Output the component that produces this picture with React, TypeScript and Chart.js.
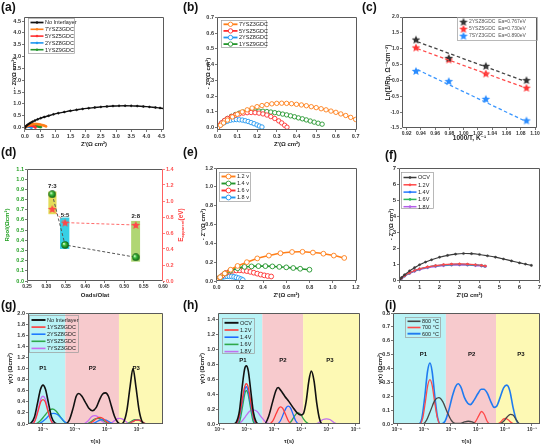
import React, { useEffect, useRef } from 'react';
import { Chart, registerables } from 'chart.js';
Chart.register(...registerables);

const FONT = "'Liberation Sans', Arial, 'DejaVu Sans', sans-serif";

type P = [number, number];

// ---------- (a)/(b) Nyquist, interlayers ----------
const nyqNoInterlayer: P[] = [[0,0],[0.03,0.05],[0.07,0.1],[0.12,0.15],[0.18,0.2],[0.25,0.25],[0.33,0.3],[0.42,0.35],[0.52,0.4],[0.64,0.45],[0.78,0.5],[0.94,0.56],[1.1,0.61],[1.3,0.66],[1.5,0.71],[1.7,0.75],[1.9,0.79],[2.1,0.82],[2.3,0.85],[2.5,0.875],[2.7,0.895],[2.9,0.91],[3.1,0.92],[3.3,0.925],[3.5,0.92],[3.7,0.91],[3.9,0.895],[4.1,0.875],[4.3,0.85],[4.45,0.83],[4.6,0.8]];
const nyq7YSZ3GDC: P[] = [[0,0],[0.015,0.015],[0.03,0.03],[0.05,0.048],[0.075,0.068],[0.1,0.085],[0.125,0.1],[0.15,0.113],[0.175,0.124],[0.2,0.133],[0.225,0.14],[0.25,0.146],[0.275,0.151],[0.3,0.154],[0.325,0.155],[0.35,0.154],[0.375,0.152],[0.4,0.148],[0.425,0.144],[0.45,0.139],[0.475,0.133],[0.5,0.127],[0.525,0.12],[0.55,0.113],[0.575,0.105],[0.6,0.097],[0.625,0.087],[0.65,0.077],[0.675,0.065],[0.7,0.052]];
const nyq5YSZ5GDC: P[] = [[0,0],[0.01,0.015],[0.02,0.03],[0.035,0.045],[0.05,0.058],[0.07,0.07],[0.09,0.08],[0.11,0.087],[0.13,0.092],[0.15,0.095],[0.17,0.096],[0.19,0.095],[0.21,0.092],[0.23,0.087],[0.25,0.08],[0.27,0.07],[0.29,0.058],[0.31,0.043],[0.325,0.03],[0.34,0.015],[0.352,0.003]];
const nyq2YSZ8GDC: P[] = [[0,0],[0.01,0.012],[0.02,0.022],[0.035,0.033],[0.05,0.041],[0.065,0.047],[0.08,0.05],[0.095,0.051],[0.11,0.05],[0.125,0.048],[0.14,0.044],[0.155,0.039],[0.17,0.032],[0.185,0.025],[0.2,0.017],[0.212,0.01],[0.225,0.004]];
const nyq1YSZ9GDC: P[] = [[0,0],[0.01,0.015],[0.02,0.028],[0.035,0.045],[0.05,0.058],[0.07,0.072],[0.09,0.083],[0.11,0.092],[0.13,0.098],[0.15,0.102],[0.17,0.104],[0.19,0.105],[0.21,0.105],[0.23,0.104],[0.25,0.102],[0.27,0.099],[0.29,0.095],[0.31,0.091],[0.33,0.086],[0.35,0.081],[0.37,0.075],[0.39,0.069],[0.41,0.062],[0.43,0.056],[0.45,0.049],[0.47,0.042],[0.49,0.035],[0.51,0.028],[0.53,0.022]];

// ---------- (c) Arrhenius ----------
const cInvT = [0.933, 0.979, 1.031, 1.088];
const c2YSZ8 = [1.29, 0.71, 0.46, 0.01];
const c5YSZ5 = [1.04, 0.66, 0.22, -0.23];
const c7SYZ3 = [0.30, -0.02, -0.58, -1.26];
const cFitX = [0.935, 1.085];
const cFit2YSZ8 = [1.22, -0.02];
const cFit5YSZ5 = [1.0, -0.22];
const cFit7SYZ3 = [0.34, -1.27];
const cLabels = ['2YSZ8GDC  Ea=0.767eV', '5YSZ5GDC  Ea=0.730eV', '7SYZ3GDC  Ea=0.890eV'];

// ---------- (d) ----------
const dOadsOlat = [0.315, 0.348, 0.53];
const dRpol = [0.852, 0.354, 0.233];
const dEapp = [0.90, 0.73, 0.70];
const dRatioLabels = ['7:3', '5:5', '2:8'];
const dLabelY = [0.93, 0.645, 0.635];
const dBoxX: P[] = [[0.305, 0.326], [0.335, 0.359], [0.518, 0.541]];
const dBoxY: P[] = [[0.656, 0.879], [0.315, 0.623], [0.19, 0.59]];

// ---------- (e) Nyquist vs voltage ----------
const e12: P[] = [[0,0],[0.03,0.04],[0.07,0.08],[0.12,0.12],[0.18,0.16],[0.26,0.2],[0.35,0.24],[0.45,0.27],[0.55,0.295],[0.65,0.308],[0.74,0.31],[0.83,0.302],[0.92,0.29],[1.01,0.27],[1.1,0.245]];
const e14: P[] = [[0,0],[0.03,0.04],[0.07,0.08],[0.12,0.11],[0.18,0.135],[0.24,0.15],[0.3,0.155],[0.36,0.158],[0.42,0.158],[0.48,0.155],[0.54,0.15],[0.6,0.145],[0.66,0.138],[0.72,0.13],[0.8,0.12]];
const e16: P[] = [[0,0],[0.02,0.03],[0.05,0.06],[0.08,0.085],[0.11,0.1],[0.14,0.108],[0.17,0.112],[0.2,0.113],[0.23,0.11],[0.26,0.105],[0.29,0.097],[0.32,0.088],[0.35,0.078],[0.38,0.068],[0.41,0.06],[0.44,0.053],[0.47,0.048]];
const e18: P[] = [[0,0],[0.015,0.02],[0.03,0.033],[0.05,0.042],[0.07,0.048],[0.09,0.051],[0.11,0.05],[0.13,0.048],[0.15,0.044],[0.17,0.038],[0.19,0.03],[0.21,0.02],[0.225,0.01]];

// ---------- (f) ----------
const fOCV: P[] = [[0,0],[0.1,0.18],[0.25,0.36],[0.5,0.6],[0.75,0.8],[1.0,0.98],[1.3,1.15],[1.6,1.29],[2.0,1.45],[2.4,1.56],[2.8,1.64],[3.2,1.68],[3.6,1.67],[4.0,1.62],[4.4,1.54],[4.8,1.45],[5.2,1.34],[5.6,1.22],[6.0,1.1],[6.3,1.02],[6.6,0.94]];
const f12: P[] = [[0,0],[0.1,0.15],[0.25,0.3],[0.5,0.48],[0.75,0.62],[1.0,0.73],[1.4,0.85],[1.8,0.93],[2.2,0.99],[2.6,1.02],[3.0,1.03],[3.4,1.02],[3.8,0.98],[4.1,0.94],[4.3,0.9]];
const f14: P[] = [[0,0],[0.1,0.14],[0.25,0.29],[0.5,0.47],[0.75,0.61],[1.0,0.72],[1.4,0.84],[1.8,0.92],[2.2,0.97],[2.6,1.0],[3.0,1.01],[3.4,1.0],[3.8,0.97],[4.1,0.93],[4.3,0.88]];
const f16: P[] = [[0,0],[0.1,0.14],[0.25,0.29],[0.5,0.46],[0.75,0.6],[1.0,0.71],[1.4,0.83],[1.8,0.91],[2.2,0.96],[2.6,0.99],[3.0,1.0],[3.4,0.99],[3.8,0.96],[4.1,0.93],[4.25,0.9]];
const f18: P[] = [[0,0],[0.1,0.13],[0.25,0.27],[0.5,0.44],[0.75,0.57],[1.0,0.67],[1.4,0.79],[1.8,0.87],[2.2,0.92],[2.6,0.95],[3.0,0.96],[3.4,0.95],[3.8,0.93],[4.1,0.9],[4.25,0.88]];

// ---------- (g) DRT interlayers: [log10(tau), gamma] ----------
const gNoInterlayer: P[] = [[-5.47,0],[-5.37,0.02],[-5.27,0.12],[-5.17,0.38],[-5.08,0.62],[-5.0,0.7],[-4.92,0.62],[-4.83,0.38],[-4.73,0.12],[-4.63,0.02],[-4.5,0],[-4.3,0],[-4.17,0.08],[-4.05,0.3],[-3.96,0.5],[-3.88,0.55],[-3.78,0.5],[-3.68,0.4],[-3.57,0.29],[-3.45,0.24],[-3.33,0.3],[-3.22,0.45],[-3.13,0.54],[-3.04,0.56],[-2.95,0.5],[-2.86,0.33],[-2.76,0.14],[-2.66,0.03],[-2.56,0],[-2.46,0.05],[-2.37,0.25],[-2.27,0.68],[-2.18,1.0],[-2.09,0.68],[-1.99,0.25],[-1.9,0.05],[-1.8,0],[-1.24,0]];
const g1YSZ9: P[] = [[-5.47,0],[-5.35,0],[-5.25,0.06],[-5.15,0.24],[-5.07,0.4],[-5.0,0.44],[-4.93,0.4],[-4.85,0.24],[-4.75,0.06],[-4.65,0],[-3.6,0],[-3.45,0.04],[-3.32,0.1],[-3.22,0.12],[-3.12,0.1],[-3.0,0.04],[-2.85,0],[-2.35,0],[-2.2,0.04],[-2.08,0.07],[-2.0,0.07],[-1.9,0.04],[-1.75,0],[-1.24,0]];
const g2YSZ8: P[] = [[-5.47,0],[-5.2,0],[-5.05,0.03],[-4.9,0.1],[-4.78,0.17],[-4.67,0.19],[-4.55,0.17],[-4.42,0.1],[-4.3,0.03],[-4.15,0],[-3.5,0],[-3.35,0.03],[-3.22,0.07],[-3.12,0.08],[-3.02,0.07],[-2.9,0.03],[-2.75,0],[-2.35,0],[-2.2,0.04],[-2.08,0.07],[-2.0,0.07],[-1.9,0.04],[-1.75,0],[-1.24,0]];
const g5YSZ5: P[] = [[-5.47,0],[-5.25,0],[-5.1,0.05],[-4.95,0.15],[-4.82,0.24],[-4.71,0.27],[-4.6,0.24],[-4.47,0.14],[-4.35,0.05],[-4.2,0],[-3.65,0],[-3.5,0.04],[-3.38,0.09],[-3.28,0.1],[-3.18,0.09],[-3.05,0.04],[-2.9,0],[-2.4,0],[-2.25,0.04],[-2.12,0.08],[-2.03,0.08],[-1.93,0.05],[-1.78,0],[-1.24,0]];
const g7YSZ3: P[] = [[-5.47,0],[-5.35,0],[-5.25,0.07],[-5.15,0.27],[-5.07,0.45],[-5.0,0.5],[-4.93,0.45],[-4.85,0.27],[-4.75,0.07],[-4.65,0],[-3.75,0],[-3.6,0.05],[-3.48,0.13],[-3.38,0.15],[-3.28,0.13],[-3.15,0.05],[-3.0,0],[-2.85,0.02],[-2.72,0.08],[-2.6,0.1],[-2.48,0.08],[-2.35,0.02],[-2.25,0],[-1.24,0]];
const gRegionEdges = [-4.30, -2.62];

// ---------- (h) DRT vs voltage ----------
const hOCV: P[] = [[-6.06,0],[-5.5,0],[-5.38,0.03],[-5.27,0.18],[-5.17,0.5],[-5.08,0.74],[-5.02,0.78],[-4.95,0.72],[-4.86,0.46],[-4.76,0.16],[-4.66,0.03],[-4.55,0],[-4.35,0],[-4.2,0.1],[-4.05,0.3],[-3.93,0.45],[-3.85,0.49],[-3.75,0.45],[-3.6,0.37],[-3.45,0.3],[-3.3,0.22],[-3.15,0.15],[-3.02,0.12],[-2.92,0.14],[-2.82,0.3],[-2.72,0.58],[-2.63,0.71],[-2.53,0.58],[-2.43,0.28],[-2.33,0.07],[-2.22,0],[-0.84,0]];
const h12: P[] = [[-6.06,0],[-5.45,0],[-5.32,0.05],[-5.2,0.25],[-5.1,0.47],[-5.02,0.54],[-4.94,0.48],[-4.84,0.26],[-4.73,0.06],[-4.6,0],[-4.2,0],[-4.05,0.04],[-3.92,0.14],[-3.83,0.21],[-3.76,0.23],[-3.68,0.21],[-3.58,0.13],[-3.47,0.04],[-3.35,0],[-0.84,0]];
const h14: P[] = [[-6.06,0],[-5.42,0],[-5.3,0.05],[-5.19,0.24],[-5.09,0.44],[-5.02,0.5],[-4.95,0.44],[-4.85,0.24],[-4.74,0.05],[-4.62,0],[-3.9,0],[-3.77,0.04],[-3.65,0.14],[-3.55,0.22],[-3.48,0.24],[-3.4,0.22],[-3.3,0.13],[-3.2,0.04],[-3.08,0],[-0.84,0]];
const h16: P[] = [[-6.06,0],[-5.35,0],[-5.25,0.05],[-5.15,0.25],[-5.07,0.41],[-5.02,0.45],[-4.96,0.41],[-4.88,0.25],[-4.78,0.05],[-4.68,0],[-3.5,0],[-3.38,0.03],[-3.26,0.1],[-3.16,0.145],[-3.1,0.15],[-3.02,0.13],[-2.92,0.07],[-2.8,0.02],[-2.68,0],[-0.84,0]];
const h18: P[] = [[-6.06,0],[-5.4,0],[-5.2,0.03],[-5.05,0.1],[-4.9,0.17],[-4.77,0.19],[-4.63,0.17],[-4.48,0.1],[-4.32,0.03],[-4.12,0],[-2.5,0],[-2.35,0.02],[-2.2,0.06],[-2.07,0.07],[-1.95,0.06],[-1.8,0.02],[-1.65,0],[-0.84,0]];
const hRegionEdges = [-4.43, -2.93];

// ---------- (i) DRT vs temperature ----------
const i800: P[] = [[-6.15,0],[-5.05,0],[-4.9,0.03],[-4.75,0.1],[-4.6,0.17],[-4.45,0.19],[-4.3,0.16],[-4.15,0.09],[-4.0,0.03],[-3.85,0.005],[-3.65,0.005],[-3.5,0.015],[-3.36,0.02],[-3.22,0.015],[-3.05,0],[-2.2,0],[-2.05,0.02],[-1.92,0.05],[-1.8,0.07],[-1.7,0.065],[-1.58,0.03],[-1.45,0],[-0.7,0]];
const i700: P[] = [[-6.15,0],[-5.15,0],[-5.05,0.04],[-4.95,0.16],[-4.86,0.28],[-4.78,0.32],[-4.7,0.28],[-4.6,0.15],[-4.5,0.04],[-4.4,0],[-3.2,0],[-3.08,0.02],[-2.97,0.06],[-2.87,0.09],[-2.77,0.07],[-2.66,0.02],[-2.55,0],[-2.3,0],[-2.18,0.01],[-2.06,0.035],[-1.98,0.04],[-1.88,0.03],[-1.76,0.01],[-1.65,0],[-0.7,0]];
const i600: P[] = [[-6.15,0],[-5.2,0],[-5.08,0.04],[-4.97,0.2],[-4.87,0.38],[-4.78,0.44],[-4.7,0.38],[-4.6,0.2],[-4.5,0.05],[-4.38,0],[-4.22,0.02],[-4.08,0.1],[-3.95,0.2],[-3.83,0.27],[-3.73,0.29],[-3.62,0.26],[-3.5,0.19],[-3.38,0.15],[-3.28,0.14],[-3.15,0.17],[-3.0,0.22],[-2.88,0.25],[-2.78,0.25],[-2.65,0.22],[-2.52,0.16],[-2.4,0.12],[-2.3,0.13],[-2.18,0.19],[-2.05,0.26],[-1.93,0.28],[-1.82,0.24],[-1.7,0.12],[-1.58,0.03],[-1.45,0],[-0.7,0]];
const iRegionEdges = [-4.19, -2.33];

const peakLabels = ['P1', 'P2', 'P3'];
const gPeakPos: P[] = [[-5.0, 1.0], [-3.45, 1.0], [-2.08, 1.0]];
const hPeakPos: P[] = [[-5.14, 0.85], [-3.67, 0.85], [-1.95, 0.85]];
const iPeakPos: P[] = [[-5.02, 0.5], [-3.23, 0.5], [-1.41, 0.5]];

// tick values
const aXTicks = [0, 0.5, 1, 1.5, 2, 2.5, 3, 3.5, 4, 4.5];
const aYTicks = [0, 0.5, 1, 1.5, 2, 2.5, 3, 3.5, 4, 4.5];
const bXTicks = [0, 0.1, 0.2, 0.3, 0.4, 0.5, 0.6, 0.7];
const bYTicks = [0, 0.1, 0.2, 0.3, 0.4, 0.5, 0.6, 0.7];
const cXTicks = [0.92, 0.94, 0.96, 0.98, 1.0, 1.02, 1.04, 1.06, 1.08, 1.1];
const cYTicks = [-1.5, -1.0, -0.5, 0, 0.5, 1.0, 1.5, 2.0];
const dXTicks = [0.25, 0.3, 0.35, 0.4, 0.45, 0.5, 0.55, 0.6];
const dYTicks = [0, 0.1, 0.2, 0.3, 0.4, 0.5, 0.6, 0.7, 0.8, 0.9, 1.0, 1.1];
const dY2Ticks = [0, 0.2, 0.4, 0.6, 0.8, 1.0, 1.2, 1.4];
const eTicks = [0, 0.2, 0.4, 0.6, 0.8, 1.0, 1.2];
const fTicks = [0, 1, 2, 3, 4, 5, 6, 7];
const gYTicks = [0, 0.2, 0.4, 0.6, 0.8, 1.0, 1.2, 1.4, 1.6, 1.8, 2.0];
const hYTicks = [0, 0.2, 0.4, 0.6, 0.8, 1.0, 1.2, 1.4];
const iYTicks = [0, 0.1, 0.2, 0.3, 0.4, 0.5, 0.6, 0.7, 0.8];
const gXDecades = [-5, -4, -3, -2];
const hXDecades = [-6, -5, -4, -3, -2, -1];
const iXDecades = [-6, -5, -4, -3, -2, -1];

// ---------- helpers ----------
const xy = (a: P[]) => a.map(([x, y]) => ({ x, y }));
const lxy = (a: P[]) => a.map(([e, y]) => ({ x: Math.pow(10, e), y }));
const zip = (xs: number[], ys: number[]) => xs.map((x, i) => ({ x, y: ys[i] }));
const SUP: Record<string, string> = { '-': '⁻', '0': '⁰', '1': '¹', '2': '²', '3': '³', '4': '⁴', '5': '⁵', '6': '⁶', '7': '⁷', '8': '⁸', '9': '⁹' };
const sup = (n: number) => String(n).split('').map((c) => SUP[c] || c).join('');
const logFmt = (v: number) => '10' + sup(Math.round(Math.log10(v)));

type Rect = { x: number; y: number; w: number; h: number };
type Frame = { l: number; t: number; r: number; b: number };

function axis(s: any) {
  const horizontal = s.position === 'bottom';
  const tsize = s.titleSize ?? 6;
  const lh = tsize * 1.2;
  let pad = 0;
  if (s.title) {
    if (s.position === 'left') pad = s.titleCenter - lh / 2;
    else pad = s.extent - s.titleCenter - lh / 2;
  }
  const col = s.tickColor ?? '#555';
  return {
    type: s.type ?? 'linear',
    position: s.position,
    min: s.min,
    max: s.max,
    afterBuildTicks: (sc: any) => { sc.ticks = s.ticks.map((v: number) => ({ value: v })); },
    afterFit: (sc: any) => {
      if (horizontal) sc.height = s.size; else sc.width = s.size;
      sc.paddingLeft = 0; sc.paddingRight = 0; sc.paddingTop = 0; sc.paddingBottom = 0;
    },
    ticks: {
      autoSkip: false, maxRotation: 0, minRotation: 0, padding: s.tickPad ?? 1,
      color: s.labelColor ?? '#333',
      font: { size: s.labelSize ?? 5.5, weight: 'bold', family: FONT },
      callback: (v: any) => s.fmt(Number(v)),
    },
    grid: { drawOnChartArea: false, drawTicks: true, tickLength: 2, color: col, tickColor: col, lineWidth: 0.8 },
    border: { display: false },
    title: s.title
      ? { display: true, text: s.title, color: s.titleColor ?? '#222', font: { size: tsize, weight: 'bold', family: FONT }, padding: horizontal ? { top: 0, bottom: pad } : { top: pad, bottom: 0 } }
      : { display: false },
  };
}

function framePlugin(sides?: any) {
  const c = '#5a5a5a';
  const s = Object.assign({ left: c, right: c, top: c, bottom: c }, sides || {});
  return {
    id: 'frameBox',
    afterDatasetsDraw(chart: any) {
      const { ctx, chartArea: a } = chart;
      const L = Math.round(a.left) + 0.5, R = Math.round(a.right) - 0.5, T = Math.round(a.top) + 0.5, B = Math.round(a.bottom) - 0.5;
      ctx.save();
      ctx.lineWidth = 1;
      ctx.setLineDash([]);
      const line = (x1: number, y1: number, x2: number, y2: number, col: string) => {
        ctx.strokeStyle = col; ctx.beginPath(); ctx.moveTo(x1, y1); ctx.lineTo(x2, y2); ctx.stroke();
      };
      line(L, T, R, T, s.top);
      line(L, B, R, B, s.bottom);
      line(L, T, L, B, s.left);
      line(R, T, R, B, s.right);
      ctx.restore();
    },
  };
}

function regionsPlugin(edges: number[], colors: string[]) {
  return {
    id: 'regions',
    beforeDatasetsDraw(chart: any) {
      const { ctx, chartArea: a, scales } = chart;
      const xs = [a.left, ...edges.map((e) => scales.x.getPixelForValue(Math.pow(10, e))), a.right];
      ctx.save();
      for (let i = 0; i < xs.length - 1; i++) {
        ctx.fillStyle = colors[i];
        ctx.fillRect(xs[i], a.top, xs[i + 1] - xs[i], a.bottom - a.top);
      }
      ctx.restore();
    },
  };
}

function boxesPlugin(bx: P[], by: P[], colors: string[]) {
  return {
    id: 'boxes',
    beforeDatasetsDraw(chart: any) {
      const { ctx, scales } = chart;
      ctx.save();
      bx.forEach((r, i) => {
        const x1 = scales.x.getPixelForValue(r[0]), x2 = scales.x.getPixelForValue(r[1]);
        const y1 = scales.y.getPixelForValue(by[i][1]), y2 = scales.y.getPixelForValue(by[i][0]);
        ctx.fillStyle = colors[i];
        ctx.fillRect(x1, y1, x2 - x1, y2 - y1);
      });
      ctx.restore();
    },
  };
}

function textsPlugin(items: { x: number; y: number; text: string }[], size: number, color = '#111') {
  return {
    id: 'texts',
    afterDatasetsDraw(chart: any) {
      const { ctx, scales } = chart;
      ctx.save();
      ctx.font = `bold ${size}px ${FONT}`;
      ctx.fillStyle = color;
      ctx.textAlign = 'center';
      ctx.textBaseline = 'middle';
      items.forEach((it) => ctx.fillText(it.text, scales.x.getPixelForValue(it.x), scales.y.getPixelForValue(it.y)));
      ctx.restore();
    },
  };
}

function drawMarker(ctx: any, d: any, x: number, y: number) {
  const ps = d.pointStyle;
  if (ps && typeof ps === 'object') { ctx.drawImage(ps, x - ps.width / 2, y - ps.height / 2); return; }
  const r = d.legendRadius ?? d.pointRadius ?? 0;
  if (r <= 0) return;
  ctx.beginPath();
  ctx.arc(x, y, r, 0, Math.PI * 2);
  ctx.fillStyle = d.pointBackgroundColor ?? d.borderColor;
  ctx.fill();
  ctx.strokeStyle = d.borderColor;
  ctx.lineWidth = d.pointBorderWidth ?? 1;
  ctx.stroke();
}

function legendPlugin(cfg: any) {
  return {
    id: 'customLegend',
    afterDatasetsDraw(chart: any) {
      const { ctx, chartArea: a } = chart;
      const x0 = Math.round(a.left + cfg.dx) + 0.5;
      const y0 = Math.round(a.top + cfg.dy) + 0.5;
      ctx.save();
      ctx.setLineDash([]);
      ctx.strokeStyle = '#9a9a9a';
      ctx.lineWidth = 0.7;
      ctx.strokeRect(x0, y0, cfg.w, cfg.h);
      const sets = chart.data.datasets.filter((d: any) => d.label);
      ctx.textBaseline = 'middle';
      ctx.textAlign = 'left';
      sets.forEach((d: any, i: number) => {
        const cy = y0 + cfg.top + cfg.row * i;
        const sx = x0 + 2;
        if (!cfg.markerOnly) {
          ctx.strokeStyle = d.borderColor;
          ctx.lineWidth = (d.borderWidth ?? 1) + 0.3;
          ctx.beginPath(); ctx.moveTo(sx, cy); ctx.lineTo(sx + cfg.sample, cy); ctx.stroke();
        }
        drawMarker(ctx, d, sx + cfg.sample / 2, cy);
        ctx.font = `${cfg.size}px ${FONT}`;
        ctx.fillStyle = cfg.textColor ?? '#222';
        ctx.fillText(d.label, sx + cfg.sample + 1.5, cy + 0.3);
      });
      ctx.restore();
    },
  };
}

function makeStar(color: string, size: number) {
  const c = document.createElement('canvas');
  c.width = size; c.height = size;
  const ctx = c.getContext('2d')!;
  const R = size / 2 - 0.5, r = R * 0.45, cx = size / 2, cy = size / 2 + 0.4;
  ctx.beginPath();
  for (let k = 0; k < 10; k++) {
    const rad = k % 2 === 0 ? R : r;
    const ang = -Math.PI / 2 + (k * Math.PI) / 5;
    const px = cx + rad * Math.cos(ang), py = cy + rad * Math.sin(ang);
    if (k === 0) ctx.moveTo(px, py); else ctx.lineTo(px, py);
  }
  ctx.closePath();
  ctx.fillStyle = color;
  ctx.fill();
  return c;
}

function makeSphere(size: number) {
  const c = document.createElement('canvas');
  c.width = size; c.height = size;
  const ctx = c.getContext('2d')!;
  const r = size / 2 - 0.3;
  const g = ctx.createRadialGradient(size / 2 - r * 0.35, size / 2 - r * 0.35, r * 0.1, size / 2, size / 2, r);
  g.addColorStop(0, '#d8ffd0');
  g.addColorStop(0.35, '#3cbf3c');
  g.addColorStop(1, '#0b5a12');
  ctx.beginPath();
  ctx.arc(size / 2, size / 2, r, 0, Math.PI * 2);
  ctx.fillStyle = g;
  ctx.fill();
  return c;
}

function geo(cv: Rect, fr: Frame) {
  return {
    yW: fr.l - cv.x,
    xH: cv.y + cv.h - fr.b,
    padTop: fr.t - cv.y,
    padRight: cv.x + cv.w - fr.r,
  };
}

function baseOptions(padTop: number, padRight: number, scales: any) {
  return {
    responsive: false,
    maintainAspectRatio: false,
    animation: false,
    events: [],
    layout: { padding: { left: 0, top: padTop, right: padRight, bottom: 0 } },
    plugins: { legend: { display: false }, tooltip: { enabled: false }, title: { display: false } },
    scales,
  };
}

const f1 = (v: number) => v.toFixed(1);
const f2 = (v: number) => v.toFixed(2);
const f0 = (v: number) => v.toFixed(0);

const ORANGE = '#FF7F1A', RED = '#FF2E2E', BLUE = '#1E96F0', GREEN = '#23952C';

function nyqSet(label: string, data: P[], color: string, radius: number, bw: number, open: boolean) {
  return {
    label, data: xy(data), showLine: true, borderColor: color, backgroundColor: color,
    borderWidth: bw, pointRadius: radius, pointBorderWidth: open ? 0.9 : 0.5,
    pointBackgroundColor: open ? '#ffffff' : color, pointBorderColor: color,
    tension: 0.3,
  };
}

function drtSet(label: string, data: P[], color: string, bw: number) {
  return {
    label, data: lxy(data), showLine: true, borderColor: color, backgroundColor: color,
    borderWidth: bw, pointRadius: 0, cubicInterpolationMode: 'monotone',
  };
}

type Panel = { cv: Rect; build: () => any };

const PANELS: Panel[] = [
  // (a)
  {
    cv: { x: 0, y: 0, w: 182, h: 150 },
    build() {
      const g = geo(this.cv, { l: 24, t: 17, r: 164, b: 130 });
      return {
        type: 'scatter',
        data: { datasets: [
          nyqSet('No Interlayer', nyqNoInterlayer, '#111111', 1, 1.4, false),
          nyqSet('7YSZ3GDC', nyq7YSZ3GDC, ORANGE, 1, 1.3, false),
          nyqSet('5YSZ5GDC', nyq5YSZ5GDC, RED, 1, 1.3, false),
          nyqSet('2YSZ8GDC', nyq2YSZ8GDC, BLUE, 1, 1.3, false),
          nyqSet('1YSZ9GDC', nyq1YSZ9GDC, GREEN, 1, 1.3, false),
        ] },
        options: baseOptions(g.padTop, g.padRight, {
          x: axis({ position: 'bottom', min: -0.03, max: 4.58, ticks: aXTicks, fmt: f1, size: g.xH, title: "Z'(Ω cm²)", titleCenter: 144, extent: 150 }),
          y: axis({ position: 'left', min: -0.1, max: 4.67, ticks: aYTicks, fmt: f1, size: g.yW, title: "- Z''(Ω cm²)", titleCenter: 14 }),
        }),
        plugins: [framePlugin(), legendPlugin({ dx: 4, dy: 0.5, w: 46, h: 35, top: 4, row: 6.8, sample: 13, size: 5.5 })],
      };
    },
  },
  // (b)
  {
    cv: { x: 182, y: 0, w: 183, h: 150 },
    build() {
      const g = geo(this.cv, { l: 217, t: 17, r: 357, b: 130 });
      return {
        type: 'scatter',
        data: { datasets: [
          nyqSet('7YSZ3GDC', nyq7YSZ3GDC, ORANGE, 2.2, 1.5, true),
          nyqSet('5YSZ5GDC', nyq5YSZ5GDC, RED, 2.2, 1.5, true),
          nyqSet('2YSZ8GDC', nyq2YSZ8GDC, BLUE, 2.2, 1.5, true),
          nyqSet('1YSZ9GDC', nyq1YSZ9GDC, GREEN, 2.2, 1.5, true),
        ] },
        options: baseOptions(g.padTop, g.padRight, {
          x: axis({ position: 'bottom', min: -0.003, max: 0.707, ticks: bXTicks, fmt: f1, size: g.xH, title: "Z'(Ω cm²)", titleCenter: 144, extent: 150 }),
          y: axis({ position: 'left', min: -0.015, max: 0.702, ticks: bYTicks, fmt: f1, size: g.yW, title: "- Z''(Ω cm²)", titleCenter: 208 - 182 }),
        }),
        plugins: [framePlugin(), legendPlugin({ dx: 4, dy: 3, w: 45, h: 27, top: 3.8, row: 6.6, sample: 14, size: 5.5 })],
      };
    },
  },
  // (c)
  {
    cv: { x: 365, y: 0, w: 181, h: 150 },
    build() {
      const g = geo(this.cv, { l: 402, t: 17, r: 537, b: 128 });
      const s1 = makeStar('#333333', 10), s2 = makeStar('#FF3535', 10), s3 = makeStar('#2A8CFF', 10);
      const fit = (ys: number[], color: string) => ({ label: '', data: zip(cFitX, ys), showLine: true, borderColor: color, borderWidth: 1.3, borderDash: [3.5, 2.5], pointRadius: 0 });
      const stars = (label: string, ys: number[], img: any, color: string) => ({ label, data: zip(cInvT, ys), showLine: false, pointStyle: img, pointRadius: 4.5, borderColor: color, backgroundColor: color });
      return {
        type: 'scatter',
        data: { datasets: [
          fit(cFit2YSZ8, '#444444'), fit(cFit5YSZ5, '#FF4A4A'), fit(cFit7SYZ3, '#3A96FF'),
          stars(cLabels[0], c2YSZ8, s1, '#333'), stars(cLabels[1], c5YSZ5, s2, '#FF3535'), stars(cLabels[2], c7SYZ3, s3, '#2A8CFF'),
        ] },
        options: baseOptions(g.padTop, g.padRight, {
          x: axis({ position: 'bottom', min: 0.9134, max: 1.1028, ticks: cXTicks, fmt: f2, size: g.xH, labelSize: 5, title: '1000/T, K⁻¹', titleSize: 6.5, titleCenter: 138, extent: 150 }),
          y: axis({ position: 'left', min: -1.5, max: 2.0, ticks: cYTicks, fmt: f1, size: g.yW, labelSize: 5, title: 'Ln(1/Rp, Ω⁻¹cm⁻²)', titleSize: 6.5, titleCenter: 388 - 365 }),
        }),
        plugins: [framePlugin(), legendPlugin({ dx: 55, dy: 0, w: 80, h: 23, top: 4.3, row: 7, sample: 8, size: 5, markerOnly: true, textColor: '#555' })],
      };
    },
  },
  // (d)
  {
    cv: { x: 0, y: 150, w: 186, h: 148 },
    build() {
      const fr = { l: 27, t: 169, r: 163, b: 281 };
      const g = geo(this.cv, fr);
      const sphere = makeSphere(8);
      const star = makeStar('#FF4848', 10);
      const eTitle = {
        id: 'eTitle',
        afterDraw(chart: any) {
          const { ctx, chartArea: a } = chart;
          ctx.save();
          ctx.translate(181, (a.top + a.bottom) / 2);
          ctx.rotate(-Math.PI / 2);
          const big = `bold 6.5px ${FONT}`, small = `bold 4px ${FONT}`;
          ctx.font = big; const w1 = ctx.measureText('E').width; const w3 = ctx.measureText('(eV)').width;
          ctx.font = small; const w2 = ctx.measureText('apparent').width;
          let x = -(w1 + w2 + w3) / 2;
          ctx.fillStyle = '#FF4040'; ctx.textBaseline = 'middle'; ctx.textAlign = 'left';
          ctx.font = big; ctx.fillText('E', x, 0); x += w1;
          ctx.font = small; ctx.fillText('apparent', x, 2); x += w2;
          ctx.font = big; ctx.fillText('(eV)', x, 0);
          ctx.restore();
        },
      };
      return {
        type: 'scatter',
        data: { datasets: [
          { label: '', data: zip(dOadsOlat, dRpol), yAxisID: 'y', showLine: true, borderColor: '#555555', borderWidth: 1, borderDash: [3, 2], pointStyle: sphere, pointRadius: 4 },
          { label: '', data: zip(dOadsOlat, dEapp), yAxisID: 'y2', showLine: true, borderColor: '#FF6A6A', borderWidth: 1, borderDash: [3, 2], pointStyle: star, pointRadius: 4 },
        ] },
        options: baseOptions(g.padTop, 0, {
          x: axis({ position: 'bottom', min: 0.25, max: 0.6, ticks: dXTicks, fmt: f2, size: g.xH, labelSize: 5, title: 'Oads/Olat', titleCenter: 295 - 150, extent: 148 }),
          y: axis({ position: 'left', min: 0, max: 1.1, ticks: dYTicks, fmt: f1, size: g.yW, labelColor: '#22A022', title: 'Rpol(Ωcm²)', titleColor: '#22A022', titleCenter: 7 }),
          y2: axis({ position: 'right', min: 0, max: 1.4, ticks: dY2Ticks, fmt: f1, size: 186 - fr.r, labelColor: '#FF5050', tickColor: '#FF6060' }),
        }),
        plugins: [
          boxesPlugin(dBoxX, dBoxY, ['rgba(222,214,60,0.85)', 'rgba(20,200,225,0.85)', 'rgba(150,200,70,0.75)']),
          textsPlugin(dOadsOlat.map((x, i) => ({ x, y: dLabelY[i], text: dRatioLabels[i] })), 6, '#222'),
          framePlugin({ right: '#FF6060' }),
          eTitle,
        ],
      };
    },
  },
  // (e)
  {
    cv: { x: 182, y: 150, w: 183, h: 148 },
    build() {
      const g = geo(this.cv, { l: 216, t: 168, r: 357, b: 281 });
      return {
        type: 'scatter',
        data: { datasets: [
          nyqSet('1.2 v', e12, ORANGE, 2.4, 1.6, true),
          nyqSet('1.4 v', e14, GREEN, 2.4, 1.6, true),
          nyqSet('1.6 v', e16, RED, 2.4, 1.6, true),
          nyqSet('1.8 v', e18, BLUE, 2.4, 1.6, true),
        ] },
        options: baseOptions(g.padTop, g.padRight, {
          x: axis({ position: 'bottom', min: -0.006, max: 1.21, ticks: eTicks, fmt: f1, size: g.xH, title: "Z'(Ω cm²)", titleCenter: 295 - 150, extent: 148 }),
          y: axis({ position: 'left', min: 0, max: 1.2, ticks: eTicks, fmt: f1, size: g.yW, title: "- Z''(Ω cm²)", titleCenter: 203 - 182 }),
        }),
        plugins: [framePlugin(), legendPlugin({ dx: 3, dy: 4, w: 31, h: 29, top: 4, row: 7, sample: 14, size: 5.5 })],
      };
    },
  },
  // (f)
  {
    cv: { x: 365, y: 150, w: 181, h: 148 },
    build() {
      const g = geo(this.cv, { l: 399, t: 168, r: 540, b: 281 });
      return {
        type: 'scatter',
        data: { datasets: [
          nyqSet('OCV', fOCV, '#3a3a3a', 1.1, 1.2, false),
          nyqSet('1.2V', f12, '#FF4848', 1.1, 1.2, false),
          nyqSet('1.4V', f14, '#2277FF', 1.1, 1.2, false),
          nyqSet('1.6V', f16, '#2DB85A', 1.1, 1.2, false),
          nyqSet('1.8V', f18, '#B45EEA', 1.1, 1.2, false),
        ] },
        options: baseOptions(g.padTop, g.padRight, {
          x: axis({ position: 'bottom', min: -0.03, max: 7.03, ticks: fTicks, fmt: f0, size: g.xH, labelSize: 6, title: "Z'(Ω cm²)", titleCenter: 295 - 150, extent: 148 }),
          y: axis({ position: 'left', min: -0.03, max: 7, ticks: fTicks, fmt: f0, size: g.yW, labelSize: 6, title: "- Z''(Ω cm²)", titleCenter: 391 - 365 }),
        }),
        plugins: [framePlugin(), legendPlugin({ dx: 2, dy: 4, w: 32, h: 36, top: 5, row: 7.3, sample: 13, size: 5.5 })],
      };
    },
  },
  // (g)
  {
    cv: { x: 0, y: 298, w: 182, h: 148 },
    build() {
      const g = geo(this.cv, { l: 28, t: 313, r: 163, b: 424 });
      return {
        type: 'scatter',
        data: { datasets: [
          drtSet('No Interlayer', gNoInterlayer, '#111111', 1.6),
          drtSet('1YSZ9GDC', g1YSZ9, '#FF3A3A', 1.3),
          drtSet('2YSZ8GDC', g2YSZ8, '#1E7BFF', 1.3),
          drtSet('5YSZ5GDC', g5YSZ5, '#2EA84A', 1.3),
          drtSet('7YSZ3GDC', g7YSZ3, '#C86CF0', 1.3),
        ] },
        options: baseOptions(g.padTop, g.padRight, {
          x: axis({ type: 'logarithmic', position: 'bottom', min: Math.pow(10, -5.47), max: Math.pow(10, -1.24), ticks: gXDecades.map((e) => Math.pow(10, e)), fmt: logFmt, size: g.xH, labelSize: 5, title: 'τ(s)', titleCenter: 441 - 298, extent: 148 }),
          y: axis({ position: 'left', min: 0, max: 2.0, ticks: gYTicks, fmt: f1, size: g.yW, title: 'γ(τ) (Ωcm²)', titleCenter: 10 }),
        }),
        plugins: [
          regionsPlugin(gRegionEdges, ['#B9F3F6', '#F7CACD', '#FDF9B4']),
          textsPlugin(gPeakPos.map((p, i) => ({ x: Math.pow(10, p[0]), y: p[1], text: peakLabels[i] })), 6),
          framePlugin(),
          legendPlugin({ dx: 1, dy: 2, w: 49, h: 37, top: 4.5, row: 7.1, sample: 14, size: 5.5 }),
        ],
      };
    },
  },
  // (h)
  {
    cv: { x: 182, y: 298, w: 183, h: 148 },
    build() {
      const g = geo(this.cv, { l: 218, t: 313, r: 360, b: 424 });
      return {
        type: 'scatter',
        data: { datasets: [
          drtSet('OCV', hOCV, '#111111', 1.6),
          drtSet('1.2V', h12, '#FF3A3A', 1.3),
          drtSet('1.4V', h14, '#1E6BFF', 1.3),
          drtSet('1.6V', h16, '#2EA84A', 1.3),
          drtSet('1.8V', h18, '#C070F0', 1.3),
        ] },
        options: baseOptions(g.padTop, g.padRight, {
          x: axis({ type: 'logarithmic', position: 'bottom', min: Math.pow(10, -6.06), max: Math.pow(10, -0.84), ticks: hXDecades.map((e) => Math.pow(10, e)), fmt: logFmt, size: g.xH, labelSize: 5, title: 'τ(s)', titleCenter: 441 - 298, extent: 148 }),
          y: axis({ position: 'left', min: 0, max: 1.49, ticks: hYTicks, fmt: f1, size: g.yW, title: 'γ(τ) (Ωcm²)', titleCenter: 202 - 182 }),
        }),
        plugins: [
          regionsPlugin(hRegionEdges, ['#B9F3F6', '#F7CACD', '#FDF9B4']),
          textsPlugin(hPeakPos.map((p, i) => ({ x: Math.pow(10, p[0]), y: p[1], text: peakLabels[i] })), 6),
          framePlugin(),
          legendPlugin({ dx: 4, dy: 5, w: 32, h: 35, top: 4.3, row: 7.2, sample: 14, size: 5.5 }),
        ],
      };
    },
  },
  // (i)
  {
    cv: { x: 365, y: 298, w: 181, h: 148 },
    build() {
      const g = geo(this.cv, { l: 393, t: 313, r: 540, b: 424 });
      return {
        type: 'scatter',
        data: { datasets: [
          drtSet('800 °C', i800, '#474747', 1.3),
          drtSet('700 °C', i700, '#FF4A4A', 1.3),
          drtSet('600 °C', i600, '#1F7BF0', 1.6),
        ] },
        options: baseOptions(g.padTop, g.padRight, {
          x: axis({ type: 'logarithmic', position: 'bottom', min: Math.pow(10, -6.15), max: Math.pow(10, -0.7), ticks: iXDecades.map((e) => Math.pow(10, e)), fmt: logFmt, size: g.xH, labelSize: 5, title: 'τ(s)', titleCenter: 441 - 298, extent: 148 }),
          y: axis({ position: 'left', min: 0, max: 0.8, ticks: iYTicks, fmt: f1, size: g.yW, title: 'γ(τ) (Ωcm²)', titleCenter: 380 - 365 }),
        }),
        plugins: [
          regionsPlugin(iRegionEdges, ['#B9F3F6', '#F7CACD', '#FDF9B4']),
          textsPlugin(iPeakPos.map((p, i) => ({ x: Math.pow(10, p[0]), y: p[1], text: peakLabels[i] })), 6),
          framePlugin(),
          legendPlugin({ dx: 12, dy: 4, w: 35, h: 20, top: 3.8, row: 6.2, sample: 13, size: 5.5 }),
        ],
      };
    },
  },
];

const PANEL_LABELS: [string, number, number][] = [
  ['(a)', 1, 1], ['(b)', 183, 1], ['(c)', 362, 1],
  ['(d)', 1, 146], ['(e)', 183, 146], ['(f)', 385, 149],
  ['(g)', 1, 299], ['(h)', 183, 299], ['(i)', 385, 299],
];

export default function App() {
  const refs = useRef<(HTMLCanvasElement | null)[]>([]);
  useEffect(() => {
    Chart.defaults.font.family = FONT;
    const charts = PANELS.map((p, i) => new Chart(refs.current[i] as HTMLCanvasElement, p.build() as any));
    return () => charts.forEach((c) => c.destroy());
  }, []);
  return (
    <div style={{ position: 'absolute', left: 0, top: 0, width: 546, height: 446, background: '#ffffff', overflow: 'hidden' }}>
      {PANELS.map((p, i) => (
        <canvas
          key={i}
          ref={(el) => { refs.current[i] = el; }}
          width={p.cv.w}
          height={p.cv.h}
          style={{ position: 'absolute', left: p.cv.x, top: p.cv.y, width: p.cv.w, height: p.cv.h }}
        />
      ))}
      {PANEL_LABELS.map(([t, x, y]) => (
        <div key={t} style={{ position: 'absolute', left: x, top: y, font: `bold 12px ${FONT}`, lineHeight: '12px', color: '#111', whiteSpace: 'nowrap' }}>{t}</div>
      ))}
    </div>
  );
}
